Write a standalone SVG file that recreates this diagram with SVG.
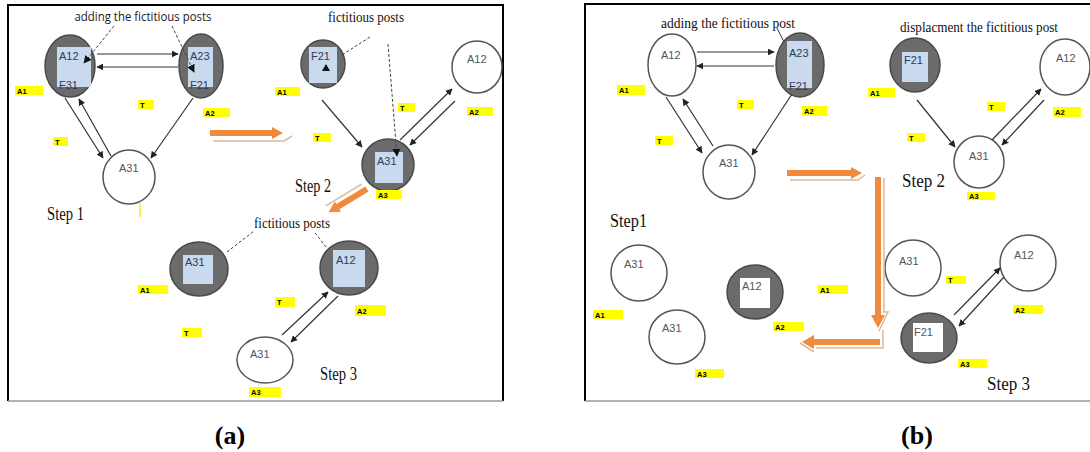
<svg xmlns="http://www.w3.org/2000/svg" width="1090" height="452" viewBox="0 0 1090 452">
<defs>
<style>
.gn{fill:#6b6b6b;stroke:#4a4a4a;stroke-width:1.5}
.wn{fill:#fff;stroke:#555;stroke-width:1.5}
.br{fill:#c9d9ee}
.wr{fill:#fff}
.nt{font-family:"Liberation Sans",Arial,sans-serif;font-size:11px;fill:#2d3c58}
.wt{font-family:"Liberation Sans",Arial,sans-serif;font-size:11px;fill:#555}
.yl{fill:#ffff00}
.yt{font-family:"Liberation Sans",Arial,sans-serif;font-size:7.5px;font-weight:bold;fill:#000}
.ed{stroke:#333;stroke-width:1.2;fill:none;marker-end:url(#ah)}
.ds{stroke:#444;stroke-width:1;fill:none;stroke-dasharray:3 2}
.st{font-family:"Liberation Serif","Times New Roman",serif;font-size:19px;fill:#111}
.an{font-family:"Liberation Serif","Times New Roman",serif;font-size:14px;fill:#111}
.or{fill:#f08a3c}
.sh{stroke:#dcb89c;stroke-width:1.5;fill:none}
.cap{font-family:"Liberation Serif","Times New Roman",serif;font-size:26px;font-weight:bold;fill:#000}
</style>
<marker id="ah" viewBox="0 0 10 10" refX="9" refY="5" markerWidth="7" markerHeight="7" orient="auto" markerUnits="userSpaceOnUse">
<path d="M0,0 L10,5 L0,10 z" fill="#222"/>
</marker>
<marker id="ah2" viewBox="0 0 10 10" refX="9" refY="5" markerWidth="8" markerHeight="8" orient="auto" markerUnits="userSpaceOnUse">
<path d="M0,0 L10,5 L0,10 z" fill="#111"/>
</marker>
</defs>
<rect width="1090" height="452" fill="#fff"/>

<!-- frames -->
<g id="frames">
<path d="M8,401 V5 H503 V401" fill="none" stroke="#000" stroke-width="2"/>
<line x1="8" y1="401" x2="503" y2="401" stroke="#999" stroke-width="1.5"/>
<path d="M585,401 V4 H1090" fill="none" stroke="#000" stroke-width="2"/>
<line x1="585" y1="401" x2="1090" y2="401" stroke="#999" stroke-width="1.5"/>
</g>

<!-- ===== Panel (a) ===== -->
<g id="a-A12">
<ellipse class="gn" cx="70" cy="66" rx="25" ry="31"/>
<rect class="br" x="57" y="47" width="34" height="40"/>
<text class="nt" x="59" y="60">A12</text>
<text class="nt" x="59" y="89">F31</text>
</g>
<g id="a-A23">
<ellipse class="gn" cx="201" cy="66" rx="22" ry="32"/>
<rect class="br" x="188" y="47" width="25" height="40"/>
<text class="nt" x="190" y="60">A23</text>
<text class="nt" x="190" y="89">F21</text>
</g>
<g id="a-A31">
<ellipse class="wn" cx="129" cy="177" rx="26" ry="27"/>
<text class="wt" x="119" y="172">A31</text>
</g>
<g id="a-F21">
<ellipse class="gn" cx="323" cy="64" rx="22" ry="24"/>
<rect class="br" x="309" y="47" width="28" height="36"/>
<text class="nt" x="311" y="60">F21</text>
<path d="M322,71 L326,64 L330,71 z" fill="#111"/>
</g>
<g id="a-A12b">
<ellipse class="wn" cx="477" cy="67" rx="25" ry="26"/>
<text class="wt" x="467" y="63">A12</text>
</g>
<g id="a-A31b">
<ellipse class="gn" cx="388" cy="165" rx="26" ry="26"/>
<rect class="br" x="375" y="152" width="28" height="31"/>
<text class="nt" x="377" y="165">A31</text>
</g>
<g id="a-A31c">
<ellipse class="gn" cx="199" cy="269" rx="29" ry="27"/>
<rect class="br" x="183" y="255" width="30" height="29"/>
<text class="nt" x="185" y="266">A31</text>
</g>
<g id="a-A12c">
<ellipse class="gn" cx="349" cy="268" rx="29" ry="27"/>
<rect class="br" x="333" y="250" width="32" height="37"/>
<text class="nt" x="336" y="264">A12</text>
</g>
<g id="a-A31d">
<ellipse class="wn" cx="265" cy="360" rx="28" ry="23"/>
<text class="wt" x="250" y="358">A31</text>
</g>

<g id="a-connectors">
<line class="ed" x1="97" y1="54" x2="178" y2="54"/>
<line class="ed" x1="178" y1="67" x2="97" y2="67"/>
<line class="ed" x1="65" y1="98" x2="103" y2="158"/>
<line class="ed" x1="111" y1="156" x2="79" y2="99"/>
<line class="ed" x1="193" y1="98" x2="151" y2="158"/>
<path class="ds" d="M114,26 L84,63" marker-end="url(#ah2)"/>
<path class="ds" d="M172,26 L194,72" marker-end="url(#ah2)"/>
<line class="ed" x1="322" y1="100" x2="362" y2="147"/>
<line class="ed" x1="400" y1="140" x2="452" y2="89"/>
<line class="ed" x1="455" y1="101" x2="410" y2="145"/>
<path class="ds" d="M370,37 L342,55"/>
<path class="ds" d="M388,44 L397,156" stroke="#222" stroke-dasharray="4 2 1 2" marker-end="url(#ah2)"/>
<path class="ds" d="M227,252 L254,231"/>
<path class="ds" d="M315,233 L327,248"/>
<line class="ed" x1="282" y1="335" x2="328" y2="292"/>
<line class="ed" x1="338" y1="296" x2="291" y2="342"/>
</g>

<g id="a-orange">
<path class="or" d="M210,130 H272 V127 L283,133 L272,139 V136 H210 z"/>
<path class="sh" d="M213,141 H284 L292,136"/>
<g transform="translate(367,189) rotate(148.8)">
<path class="or" d="M0,-3 H34 V-6 L45,0 L34,6 V3 H0 z"/>
<path class="sh" d="M2,7 H44"/>
</g>
<rect x="139" y="203" width="2" height="14" fill="#ffef5a"/>
</g>

<g id="a-texts">
<text x="143" y="21" text-anchor="middle" font-family="'Open Sans','Liberation Sans',sans-serif" font-size="13" fill="#222" textLength="137" lengthAdjust="spacingAndGlyphs">adding the fictitious posts</text>
<text class="an" x="366" y="22" text-anchor="middle" textLength="76" lengthAdjust="spacingAndGlyphs">fictitious posts</text>
<text class="an" x="292" y="228" text-anchor="middle" textLength="76" lengthAdjust="spacingAndGlyphs">fictitious posts</text>
<text class="st" x="47" y="220" textLength="37" lengthAdjust="spacingAndGlyphs">Step 1</text>
<text class="st" x="295" y="192" textLength="36" lengthAdjust="spacingAndGlyphs">Step 2</text>
<text class="st" x="320" y="380" textLength="37" lengthAdjust="spacingAndGlyphs">Step 3</text>
</g>

<g id="a-labels">
<rect class="yl" x="15" y="86" width="28" height="9"/><text class="yt" x="17" y="93.5">A1</text>
<rect class="yl" x="138" y="100" width="16" height="9"/><text class="yt" x="140" y="107.5">T</text>
<rect class="yl" x="203" y="108" width="27" height="9"/><text class="yt" x="205" y="115.5">A2</text>
<rect class="yl" x="53" y="137" width="15" height="9"/><text class="yt" x="55" y="144.5">T</text>
<rect class="yl" x="275" y="87" width="25" height="9"/><text class="yt" x="277" y="94.5">A1</text>
<rect class="yl" x="398" y="103" width="17" height="9"/><text class="yt" x="400" y="110.5">T</text>
<rect class="yl" x="467" y="107" width="26" height="9"/><text class="yt" x="469" y="114.5">A2</text>
<rect class="yl" x="313" y="133" width="18" height="9"/><text class="yt" x="315" y="140.5">T</text>
<rect class="yl" x="376" y="190" width="26" height="9"/><text class="yt" x="378" y="197.5">A3</text>
<rect class="yl" x="138" y="285" width="30" height="9"/><text class="yt" x="140" y="292.5">A1</text>
<rect class="yl" x="182" y="328" width="20" height="9"/><text class="yt" x="184" y="335.5">T</text>
<rect class="yl" x="275" y="297" width="20" height="10"/><text class="yt" x="277" y="305">T</text>
<rect class="yl" x="355" y="305" width="31" height="11"/><text class="yt" x="357" y="313.5">A2</text>
<rect class="yl" x="249" y="387" width="32" height="10"/><text class="yt" x="251" y="395">A3</text>
</g>

<!-- ===== Panel (b) ===== -->
<g id="b-A12">
<ellipse class="wn" cx="672" cy="65" rx="24" ry="31"/>
<text class="wt" x="661" y="59">A12</text>
</g>
<g id="b-A23">
<ellipse class="gn" cx="800" cy="65" rx="24" ry="32"/>
<rect class="br" x="787" y="41" width="25" height="47"/>
<text class="nt" x="789" y="57">A23</text>
<text class="nt" x="789" y="90">F21</text>
</g>
<g id="b-A31">
<ellipse class="wn" cx="729" cy="172" rx="26" ry="27"/>
<text class="wt" x="719" y="167">A31</text>
</g>
<g id="b-F21">
<ellipse class="gn" cx="915" cy="65" rx="25" ry="27"/>
<rect class="br" x="902" y="52" width="26" height="30"/>
<text class="nt" x="904" y="64">F21</text>
</g>
<g id="b-A12b">
<ellipse class="wn" cx="1065" cy="67" rx="25" ry="28"/>
<text class="wt" x="1056" y="62">A12</text>
</g>
<g id="b-A31b">
<ellipse class="wn" cx="979" cy="162" rx="25" ry="26"/>
<text class="wt" x="969" y="160">A31</text>
</g>
<g id="b-A31c">
<ellipse class="wn" cx="639" cy="273" rx="28" ry="28"/>
<text class="wt" x="624" y="268">A31</text>
</g>
<g id="b-A31d">
<ellipse class="wn" cx="677" cy="337" rx="28" ry="27"/>
<text class="wt" x="662" y="332">A31</text>
</g>
<g id="b-A12c">
<ellipse class="gn" cx="755" cy="292" rx="28" ry="27"/>
<rect class="wr" x="740" y="278" width="30" height="30"/>
<text class="wt" x="742" y="290">A12</text>
</g>
<g id="b-A31e">
<ellipse class="wn" cx="913" cy="268" rx="28" ry="28"/>
<text class="wt" x="899" y="265">A31</text>
</g>
<g id="b-A12d">
<ellipse class="wn" cx="1028" cy="263" rx="28" ry="28"/>
<text class="wt" x="1014" y="259">A12</text>
</g>
<g id="b-F21b">
<ellipse class="gn" cx="929" cy="338" rx="28" ry="25"/>
<rect class="wr" x="913" y="323" width="30" height="29"/>
<text class="wt" x="914" y="336">F21</text>
</g>

<g id="b-connectors">
<line class="ed" x1="697" y1="52" x2="774" y2="52"/>
<line class="ed" x1="774" y1="66" x2="697" y2="66"/>
<line class="ed" x1="666" y1="97" x2="702" y2="153"/>
<line class="ed" x1="713" y1="146" x2="683" y2="99"/>
<line class="ed" x1="792" y1="94" x2="752" y2="155"/>
<line x1="777" y1="28" x2="784" y2="42" stroke="#333" stroke-width="1"/>
<line class="ed" x1="917" y1="100" x2="955" y2="147"/>
<line class="ed" x1="992" y1="140" x2="1041" y2="89"/>
<line class="ed" x1="1044" y1="100" x2="1002" y2="145"/>
<line class="ed" x1="954" y1="315" x2="1000" y2="268"/>
<line class="ed" x1="1004" y1="277" x2="959" y2="326"/>
</g>

<g id="b-orange">
<path class="or" d="M787,170 H851 V167 L862,173 L851,179 V176 H787 z"/>
<path class="sh" d="M790,180 H858 L865,175"/>
<path class="or" d="M875,177 H881 V315 H885 L878,328 L871,315 H875 z"/>
<path class="sh" d="M884,178 V312 L888,312 L879,331"/>
<path class="or" d="M880,339 V345 H814 V349 L802,342 L814,335 V339 z"/>
<path class="sh" d="M883,330 V348 H816 M814,352 L800,343"/>
</g>

<g id="b-texts">
<text class="an" x="728" y="28" text-anchor="middle" font-size="15" textLength="134" lengthAdjust="spacingAndGlyphs">adding the fictitious post</text>
<text class="an" x="979" y="32" text-anchor="middle" font-size="15" textLength="158" lengthAdjust="spacingAndGlyphs">displacment the fictitious post</text>
<text class="st" x="610" y="227" textLength="37" lengthAdjust="spacingAndGlyphs">Step1</text>
<text class="st" x="902" y="187" textLength="43" lengthAdjust="spacingAndGlyphs">Step 2</text>
<text class="st" x="987" y="390" textLength="43" lengthAdjust="spacingAndGlyphs">Step 3</text>
</g>

<g id="b-labels">
<rect class="yl" x="617" y="85" width="28" height="10"/><text class="yt" x="619" y="93">A1</text>
<rect class="yl" x="737" y="100" width="17" height="9"/><text class="yt" x="739" y="107.5">T</text>
<rect class="yl" x="802" y="106" width="25" height="10"/><text class="yt" x="804" y="114">A2</text>
<rect class="yl" x="655" y="136" width="18" height="9"/><text class="yt" x="657" y="143.5">T</text>
<rect class="yl" x="868" y="88" width="27" height="9"/><text class="yt" x="870" y="95.5">A1</text>
<rect class="yl" x="987" y="102" width="18" height="9"/><text class="yt" x="989" y="109.5">T</text>
<rect class="yl" x="1053" y="107" width="28" height="10"/><text class="yt" x="1055" y="115">A2</text>
<rect class="yl" x="907" y="133" width="18" height="9"/><text class="yt" x="909" y="140.5">T</text>
<rect class="yl" x="967" y="192" width="28" height="8"/><text class="yt" x="969" y="199">A3</text>
<rect class="yl" x="593" y="310" width="30" height="9"/><text class="yt" x="595" y="317.5">A1</text>
<rect class="yl" x="695" y="369" width="29" height="9"/><text class="yt" x="697" y="376.5">A3</text>
<rect class="yl" x="773" y="322" width="31" height="9"/><text class="yt" x="775" y="329.5">A2</text>
<rect class="yl" x="818" y="285" width="30" height="9"/><text class="yt" x="820" y="292.5">A1</text>
<rect class="yl" x="946" y="276" width="20" height="8"/><text class="yt" x="948" y="283">T</text>
<rect class="yl" x="1013" y="305" width="30" height="9"/><text class="yt" x="1015" y="312.5">A2</text>
<rect class="yl" x="958" y="359" width="29" height="9"/><text class="yt" x="960" y="366.5">A3</text>
</g>

<g id="captions">
<text class="cap" x="230" y="444" text-anchor="middle">(a)</text>
<text class="cap" x="917" y="444" text-anchor="middle">(b)</text>
</g>
</svg>
